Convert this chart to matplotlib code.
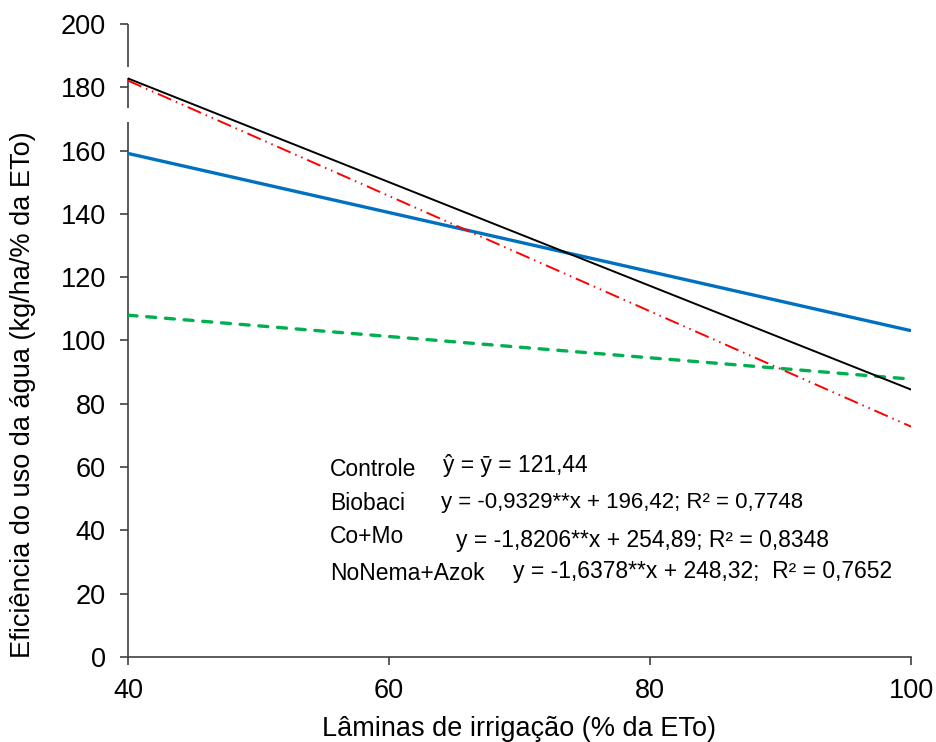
import matplotlib
matplotlib.use("Agg")
import matplotlib.pyplot as plt

plt.rcParams['font.family'] = ['Liberation Sans', 'DejaVu Sans']
plt.rcParams['lines.scale_dashes'] = False

# Data (values at the ends of each fitted line)
x_vals = [40, 100]
biobaci = [159.1, 103.1]
nonema_azok = [182.8, 84.5]
como = [182.1, 72.8]
controle = [108.0, 87.8]

x_ticks = [40, 60, 80, 100]
y_ticks = [0, 20, 40, 60, 80, 100, 120, 140, 160, 180, 200]

fig = plt.figure(figsize=(9.36, 7.42), dpi=100)
ax = fig.add_axes([128/936, 1 - 657/742, (911-128)/936, (657-24)/742])

ax.plot(x_vals, controle, color='#00B050', lw=2.4, linestyle=(0, (6.5, 7)),
        dash_capstyle='round', zorder=3)
ax.plot(x_vals, biobaci, color='#0070C0', lw=2.4, solid_capstyle='butt', zorder=3)
ax.plot(x_vals, como, color='#FF0000', lw=1.4, linestyle=(0, (10.5, 3.6, 1.1, 3.6, 1.1, 3.6)), zorder=3)
ax.plot(x_vals, nonema_azok, color='black', lw=1.4, zorder=4)

ax.set_xlim(40, 100)
ax.set_ylim(0, 200)
ax.set_xticks(x_ticks)
ax.set_yticks(y_ticks)
ax.tick_params(axis='both', direction='out', length=6, width=1.2, colors='#404040',
               labelsize=19.5, labelcolor='black')
ax.tick_params(axis='y', pad=10)
ax.tick_params(axis='x', pad=9)

for s in ['top', 'right', 'left']:
    ax.spines[s].set_visible(False)
ax.spines['bottom'].set_color('#404040')
ax.spines['bottom'].set_linewidth(1.2)

# broken left axis line (drawn as segments)
seg = [(0, 169.0), (173.5, 182.9), (186.4, 200)]
for y0, y1 in seg:
    ax.plot([0, 0], [y0 / 200, y1 / 200], transform=ax.transAxes, color='#404040',
            lw=1.2, clip_on=False, zorder=2, solid_capstyle='butt')

ax.set_xlabel('Lâminas de irrigação (% da ETo)', fontsize=19.5, labelpad=9)
ax.set_ylabel('Eficiência do uso da água (kg/ha/% da ETo)', fontsize=19.5)
ax.yaxis.set_label_coords(-0.117, 0.414)

fs = 16.5
ax.text(55.48, 57.2, 'Controle', fontsize=fs, va='baseline')
ax.text(64.14, 58.6, 'ŷ = ȳ = 121,44', fontsize=fs, va='baseline')
ax.text(55.48, 46.4, 'Biobaci', fontsize=fs, va='baseline')
ax.text(63.99, 47.0, 'y = -0,9329**x + 196,42; R² = 0,7748', fontsize=16, va='baseline')
ax.text(55.48, 35.9, 'Co+Mo', fontsize=fs, va='baseline')
ax.text(65.13, 34.7, 'y = -1,8206**x + 254,89; R² = 0,8348', fontsize=fs, va='baseline')
ax.text(55.48, 24.3, 'NoNema+Azok', fontsize=fs, va='baseline')
ax.text(69.5, 24.9, 'y = -1,6378**x + 248,32;  R² = 0,7652', fontsize=fs, va='baseline')

fig.savefig('out.png', dpi=100)
